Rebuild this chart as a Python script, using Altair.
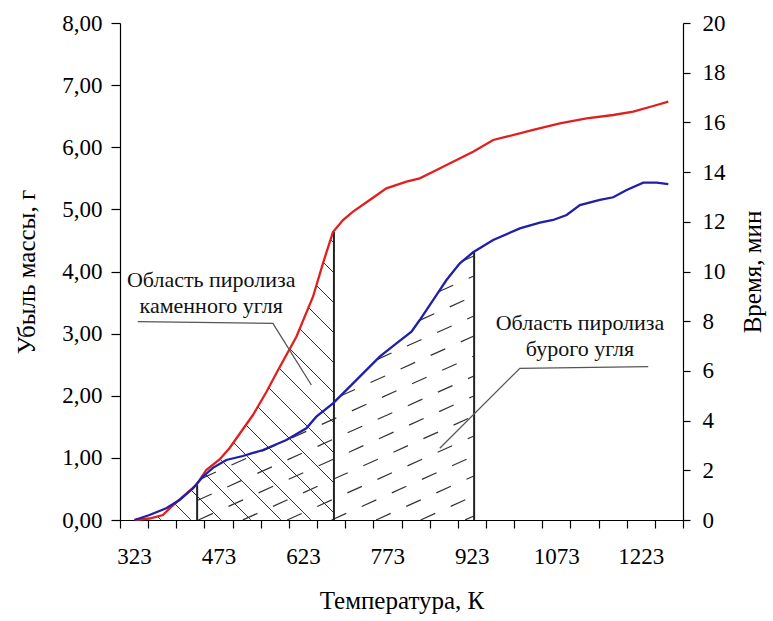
import numpy as np
import pandas as pd
import altair as alt

# ---------------- data ----------------
temp_red = [323.8, 350.4, 374.1, 389.5, 409.6, 433.5, 451.2, 474.9, 492.7, 534.1, 558.0,
            575.7, 611.3, 640.8, 658.5, 676.3, 694.1, 711.9, 741.6, 771.2, 806.8, 830.4,
            854.1, 889.6, 925.2, 960.8, 984.6, 1031.9, 1079.3, 1126.8, 1174.1, 1209.6,
            1245.2, 1271.9]
loss_red = [0.0, 0.024, 0.08, 0.214, 0.375, 0.563, 0.805, 0.975, 1.159, 1.69, 2.06,
            2.361, 2.950, 3.594, 4.132, 4.636, 4.829, 4.963, 5.151, 5.339, 5.446, 5.500,
            5.606, 5.767, 5.928, 6.117, 6.170, 6.278, 6.386, 6.466, 6.519, 6.572,
            6.664, 6.733]

temp_blue = [323.8, 350.4, 380.1, 403.8, 427.4, 445.2, 463.0, 486.8, 516.3, 551.9, 593.5,
             629.0, 646.8, 676.3, 711.9, 759.3, 789.0, 815.7, 830.4, 854.1, 877.9, 901.6,
             925.2, 960.8, 1008.2, 1043.8, 1067.4, 1091.3, 1114.9, 1150.4, 1174.1, 1197.9,
             1227.4, 1251.2, 1271.9]
loss_blue = [0.0, 0.08, 0.188, 0.322, 0.51, 0.697, 0.84, 0.966, 1.03, 1.127, 1.288,
             1.476, 1.663, 1.878, 2.200, 2.629, 2.844, 3.031, 3.219, 3.541, 3.863, 4.132,
             4.309, 4.507, 4.695, 4.785, 4.829, 4.909, 5.070, 5.151, 5.195, 5.312,
             5.429, 5.429, 5.408]

boundary_temps = [435.0, 678.0, 927.0]
boundary_tops = [0.563, 4.636, 4.309]

label_texts = ["Область пиролиза\nкаменного угля", "Область пиролиза\nбурого угля"]
label_temps = [460.0, 1115.0]
label_vals = [3.863, 3.166]

leader_id = [1, 1, 1, 2, 2, 2]
leader_ord = [0, 1, 2, 0, 1, 2]
leader_temps = [329.6, 569.6, 637.9, 1236.3, 1008.2, 866.0]
leader_vals = [3.192, 3.166, 2.173, 2.468, 2.442, 1.154]

x_ticks = list(range(298, 1299, 50))
y_left_ticks = [0, 1, 2, 3, 4, 5, 6, 7, 8]
y_right_ticks = [0, 2, 4, 6, 8, 10, 12, 14, 16, 18, 20]

# ---------------- geometry ----------------
X_MIN, X_MAX = 298, 1298
Y_MAX = 8
W, H = 563, 497
FONT = "Liberation Serif"


def to_px(t):
    return (np.asarray(t, float) - X_MIN) / (X_MAX - X_MIN) * W


def to_py(v):
    return H - np.asarray(v, float) / Y_MAX * H


def from_px(px):
    return X_MIN + np.asarray(px, float) / W * (X_MAX - X_MIN)


def from_py(py):
    return (H - np.asarray(py, float)) / H * Y_MAX


def hatch_segments(tc, vc, t_lo, t_hi, s, c_values):
    px = np.arange(to_px(t_lo), to_px(t_hi) + 1e-9, 0.25)
    py_curve = to_py(np.interp(from_px(px), tc, vc))
    segs = []
    for c in c_values:
        py_line = H + s * (px - c)
        inside = (py_line <= H + 1e-9) & (py_line >= py_curve)
        idx = np.flatnonzero(inside)
        if len(idx) < 2:
            continue
        runs = np.split(idx, np.where(np.diff(idx) > 1)[0] + 1)
        for r in runs:
            if len(r) < 3:
                continue
            a, b = r[0], r[-1]
            segs.append(dict(t1=float(from_px(px[a])), v1=float(from_py(py_line[a])),
                             t2=float(from_px(px[b])), v2=float(from_py(py_line[b]))))
    return pd.DataFrame(segs)


# "\" hatching under the red curve
c_back = np.arange(341.0 - 30 * 13, to_px(678) + H + 30, 30.0)
hatch_back = hatch_segments(temp_red, loss_red, 323.8, boundary_temps[1], 1.0, c_back)
# "/" dashed hatching under the blue curve
c_fwd = np.arange(to_px(435) - H / 0.45 - 50, to_px(927) + 5, 20 / 0.45)
hatch_fwd = hatch_segments(temp_blue, loss_blue, boundary_temps[0], boundary_temps[2], -0.45, c_fwd)

red_df = pd.DataFrame({"T": temp_red, "v": loss_red})
blue_df = pd.DataFrame({"T": temp_blue, "v": loss_blue})
bound_df = pd.DataFrame({"T": boundary_temps, "top": boundary_tops, "base": [0.0] * 3})
label_df = pd.DataFrame({"T": label_temps, "v": label_vals, "txt": label_texts})
leader_df = pd.DataFrame({"id": leader_id, "o": leader_ord, "T": leader_temps, "v": leader_vals})
right_df = pd.DataFrame({"t": [0, 20]})

xscale = alt.Scale(domain=[X_MIN, X_MAX], nice=False, zero=False)
yscale = alt.Scale(domain=[0, Y_MAX], nice=False)

x_axis = alt.Axis(
    values=x_ticks,
    labelExpr="(datum.value - 298) % 150 == 0 ? format(datum.value + 25, 'd') : ''",
    labelOffset=14, labelFlush=False, labelOverlap=False, labelBound=False,
    tickSize=8, tickColor="black", domainColor="black", tickWidth=1.2, domainWidth=1.2,
    labelFont=FONT, labelFontSize=23, labelColor="black", labelPadding=17,
    title="Температура, К", titleFont=FONT, titleFontSize=25, titleFontWeight="normal",
    titleColor="black", titlePadding=20, grid=False,
)
y_axis = alt.Axis(
    values=y_left_ticks,
    labelExpr="replace(format(datum.value, '.2f'), '.', ',')",
    tickSize=9, tickColor="black", domainColor="black", tickWidth=1.2, domainWidth=1.2,
    labelFont=FONT, labelFontSize=23, labelColor="black", labelPadding=9,
    title="Убыль массы, г", titleFont=FONT, titleFontSize=25, titleFontWeight="normal",
    titleColor="black", titlePadding=22, grid=False,
)
y2_axis = alt.Axis(
    orient="right", values=y_right_ticks, format="d",
    tickSize=7, tickColor="black", domainColor="black", tickWidth=1.2, domainWidth=1.2,
    labelFont=FONT, labelFontSize=23, labelColor="black", labelPadding=12,
    title="Время, мин", titleFont=FONT, titleFontSize=25, titleFontWeight="normal",
    titleColor="black", titlePadding=15, titleAngle=270, titleBaseline="top", grid=False,
)


def X(field):
    return alt.X(field, scale=xscale, axis=x_axis)


def Y(field):
    return alt.Y(field, scale=yscale, axis=y_axis)


back = alt.Chart(hatch_back).mark_rule(color="#333333", strokeWidth=1).encode(
    x=X("t1:Q"), y=Y("v1:Q"), x2="t2:Q", y2="v2:Q",
)
fwd = alt.Chart(hatch_fwd).mark_rule(color="#333333", strokeWidth=1.2, strokeDash=[16, 17]).encode(
    x=X("t1:Q"), y=Y("v1:Q"), x2="t2:Q", y2="v2:Q",
)
bounds = alt.Chart(bound_df).mark_rule(color="#222222", strokeWidth=2).encode(
    x=X("T:Q"), y=Y("base:Q"), y2="top:Q",
)
red = alt.Chart(red_df).mark_line(color="#e0201e", strokeWidth=2.3).encode(
    x=X("T:Q"), y=Y("v:Q"),
)
blue = alt.Chart(blue_df).mark_line(color="#1f1fa8", strokeWidth=2.3).encode(
    x=X("T:Q"), y=Y("v:Q"),
)
leaders = alt.Chart(leader_df).mark_line(color="#555555", strokeWidth=1.3).encode(
    x=X("T:Q"), y=Y("v:Q"), detail="id:N", order="o:Q",
)
labels = alt.Chart(label_df).mark_text(
    font=FONT, fontSize=22, lineBreak="\n", lineHeight=26, align="center",
    baseline="middle", color="#111111",
).encode(
    x=X("T:Q"), y=Y("v:Q"), text="txt:N",
)

left = alt.layer(back, fwd, bounds, red, blue, leaders, labels)
right = alt.Chart(right_df).mark_point(opacity=0).encode(
    y=alt.Y("t:Q", scale=alt.Scale(domain=[0, 20], nice=False), axis=y2_axis),
)

chart = alt.layer(left, right).resolve_scale(y="independent").properties(
    width=W, height=H,
    autosize=alt.AutoSizeParams(type="none"),
    padding={"left": 120, "top": 23, "right": 90, "bottom": 101},
    background="white",
).configure_view(stroke=None)

chart.save("out.html", embed_options={"renderer": "svg", "actions": False})
